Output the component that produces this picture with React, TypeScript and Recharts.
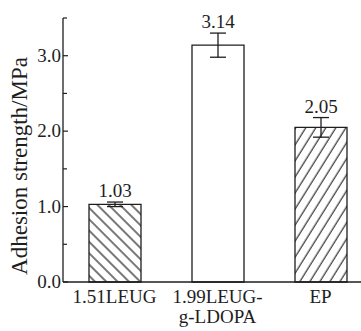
import { BarChart, Bar, XAxis, YAxis, Cell, ErrorBar, LabelList } from 'recharts';

const categories = ['1.51LEUG', '1.99LEUG-\ng-LDOPA', 'EP'];
const strength = [1.03, 3.14, 2.05];
const strengthErr = [0.03, 0.16, 0.13];
const yTicks = [0, 0.5, 1, 1.5, 2, 2.5, 3, 3.5];
const majorTicks = [0, 1, 2, 3];
const yTitle = 'Adhesion strength/MPa';

const data = categories.map((name, i) => ({ name, value: strength[i], err: strengthErr[i] }));

const fills = ['url(#hatchBack)', '#ffffff', 'url(#hatchFwd)'];
const FONT = "'Liberation Serif', 'DejaVu Serif', serif";
const INK = '#1e1e1e';

function YTick(props: any) {
  const { x, y, payload } = props;
  const ax = x + 2;
  const major = majorTicks.includes(payload.value);
  return (
    <g>
      <line x1={ax} y1={y} x2={ax + (major ? 5 : 4)} y2={y} stroke={INK} strokeWidth={1.2} />
      {major && (
        <text x={x} y={y} dy={6} textAnchor="end" fontFamily={FONT} fontSize={19} fill={INK}>
          {payload.value.toFixed(1)}
        </text>
      )}
    </g>
  );
}

function XTick(props: any) {
  const { x, y, payload } = props;
  const lines = String(payload.value).split('\n');
  return (
    <text x={x} y={y} textAnchor="middle" fontFamily={FONT} fontSize={19} fill={INK}>
      {lines.map((l, i) => (
        <tspan key={i} x={x} dy={i === 0 ? 19 : 20}>
          {l}
        </tspan>
      ))}
    </text>
  );
}

// rotated axis title, sitting a little below the plot's middle
function YTitle(props: any) {
  const { viewBox } = props;
  const cy = viewBox.y + viewBox.height / 2 + 16;
  return (
    <text
      transform={`translate(${viewBox.x + 27}, ${cy}) rotate(-90)`}
      textAnchor="middle"
      fontFamily={FONT}
      fontSize={23}
      fill={INK}
    >
      {yTitle}
    </text>
  );
}

// value label sits just above the error bar cap
function ValueLabel(props: any) {
  const { x, y, width, height, value, index } = props;
  const perUnit = height / value;
  const top = y - strengthErr[index] * perUnit;
  return (
    <text x={x + width / 2} y={top - 5} textAnchor="middle" fontFamily={FONT} fontSize={19} fill={INK}>
      {value.toFixed(2)}
    </text>
  );
}

export default function App() {
  return (
    <div style={{ position: 'absolute', left: 0, top: 0, width: 361, height: 331, overflow: 'hidden', background: '#fff' }}>
      <BarChart width={372} height={331} data={data} margin={{ top: 18, right: 0, left: 0, bottom: 0 }}>
        <defs>
          <pattern id="hatchBack" patternUnits="userSpaceOnUse" width={8} height={8} patternTransform="rotate(-45)">
            <rect width={8} height={8} fill="#fff" />
            <line x1={4} y1={0} x2={4} y2={8} stroke={INK} strokeWidth={1.2} />
          </pattern>
          <pattern id="hatchFwd" patternUnits="userSpaceOnUse" width={8.5} height={8.5} patternTransform="rotate(32)">
            <rect width={8.5} height={8.5} fill="#fff" />
            <line x1={4} y1={0} x2={4} y2={8.5} stroke={INK} strokeWidth={1.1} />
          </pattern>
        </defs>
        <XAxis
          dataKey="name"
          axisLine={{ stroke: INK, strokeWidth: 1.3 }}
          tickLine={false}
          tickSize={0}
          height={49}
          interval={0}
          tick={<XTick />}
        />
        <YAxis
          domain={[0, 3.5]}
          ticks={yTicks}
          width={63}
          axisLine={{ stroke: INK, strokeWidth: 1.3 }}
          tickLine={false}
          tickSize={0}
          tickMargin={2}
          interval={0}
          tick={<YTick />}
          label={<YTitle />}
        />
        <Bar dataKey="value" barSize={52} stroke={INK} strokeWidth={1.3} isAnimationActive={false}>
          {data.map((d, i) => (
            <Cell key={d.name} fill={fills[i]} />
          ))}
          <ErrorBar dataKey="err" width={8} stroke={INK} strokeWidth={1.3} direction="y" />
          <LabelList dataKey="value" content={<ValueLabel />} />
        </Bar>
      </BarChart>
    </div>
  );
}
